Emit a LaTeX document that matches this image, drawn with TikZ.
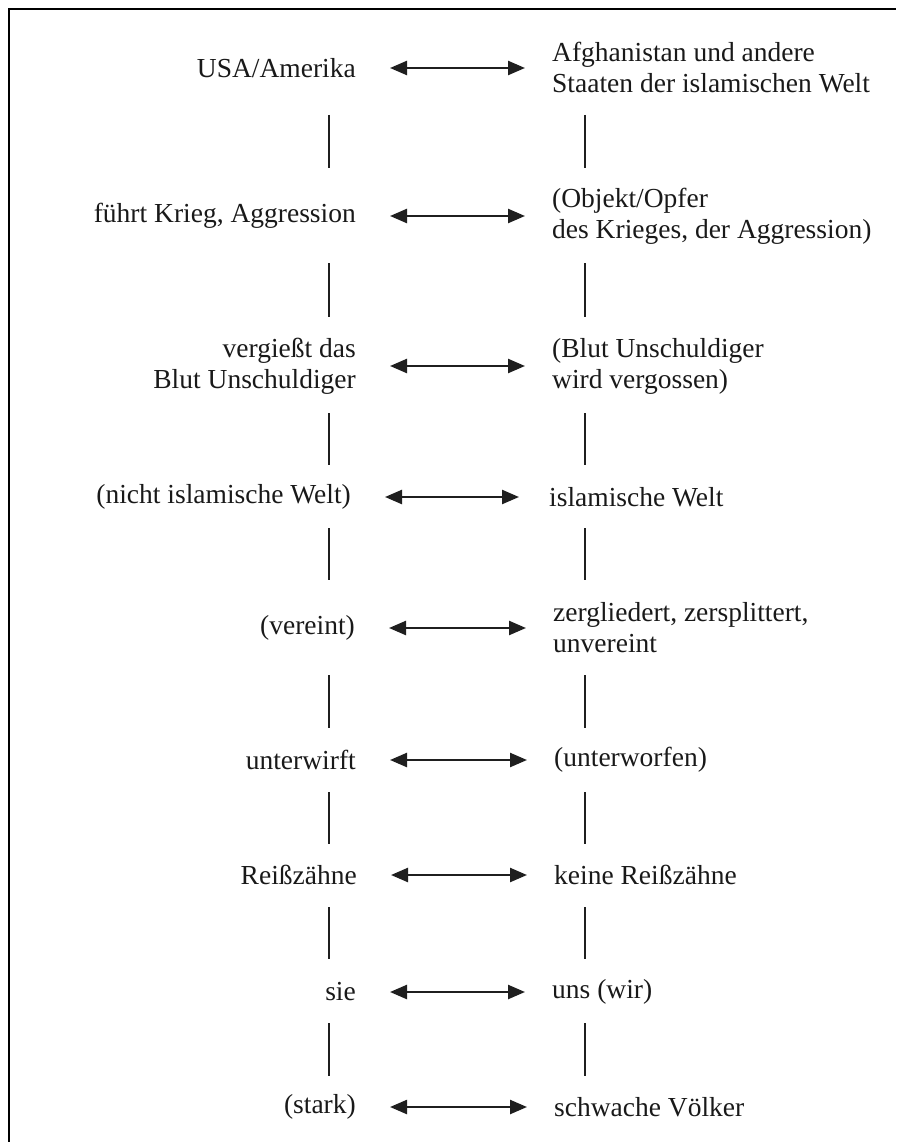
\documentclass[tikz,border=0pt]{standalone}
\usepackage{fontspec}
\setmainfont{Liberation Serif}
\usetikzlibrary{arrows.meta}
\begin{document}
\begin{tikzpicture}[x=1pt,y=-1pt,
  txt/.style={inner sep=0pt, font=\fontsize{27.5}{31}\selectfont, text=black!90},
  lt/.style={txt, anchor=east, align=right},
  rt/.style={txt, anchor=west, align=left},
  tip/.tip={Triangle[length=17pt,width=14pt]},
  arr/.style={tip-tip, line width=2.4pt, draw=black!88, shorten <=34pt, shorten >=27pt},
  vline/.style={line width=1.7pt, draw=black!88},
  frame/.style={line width=2.4pt, draw=black}]
\useasboundingbox (0,0) rectangle (896,1142);
\draw[frame] (9,1142) -- (9,9) -- (896,9);

\node[lt] (L1) at (356,68) {USA/Amerika};
\node[rt] (R1) at (552,68) {Afghanistan und andere\\Staaten der islamischen Welt};
\node[lt] (L2) at (356,216) {führt Krieg, Aggression};
\node[rt] (R2) at (552,216) {(Objekt/Opfer\\des Krieges, der Aggression)};
\node[lt] (L3) at (356,366) {vergießt das\\Blut Unschuldiger};
\node[rt] (R3) at (552,366) {(Blut Unschuldiger\\wird vergossen)};
\node[lt] (L4) at (351,497) {(nicht islamische Welt)};
\node[rt] (R4) at (549,497) {islamische Welt};
\node[lt] (L5) at (355,628) {(vereint)};
\node[rt] (R5) at (553,628) {zergliedert, zersplittert,\\unvereint};
\node[lt] (L6) at (356,760) {unterwirft};
\node[rt] (R6) at (554,760) {(unterworfen)};
\node[lt] (L7) at (357,875) {Reißzähne};
\node[rt] (R7) at (554,875) {keine Reißzähne};
\node[lt] (L8) at (356,992) {sie};
\node[rt] (R8) at (552,992) {uns (wir)};
\node[lt] (L9) at (356,1107) {(stark)};
\node[rt] (R9) at (554,1107) {schwache Völker};

\foreach \i in {1,2,3,5,6,7,8,9}{
  \draw[arr] (L\i) -- (R\i);
}
\draw[arr, shorten <=34pt, shorten >=30pt] (L4) -- (R4);

\foreach \k/\ya/\yb in {1/115/168,2/263/317,3/413/465,4/528/580,5/675/728,6/792/844,7/907/959,8/1023/1076}{
  \coordinate (la\k) at (329,\ya);
  \coordinate (lb\k) at (329,\yb);
  \coordinate (ra\k) at (585,\ya);
  \coordinate (rb\k) at (585,\yb);
  \draw[vline] (la\k) -- (lb\k);
  \draw[vline] (ra\k) -- (rb\k);
}
\end{tikzpicture}
\end{document}
